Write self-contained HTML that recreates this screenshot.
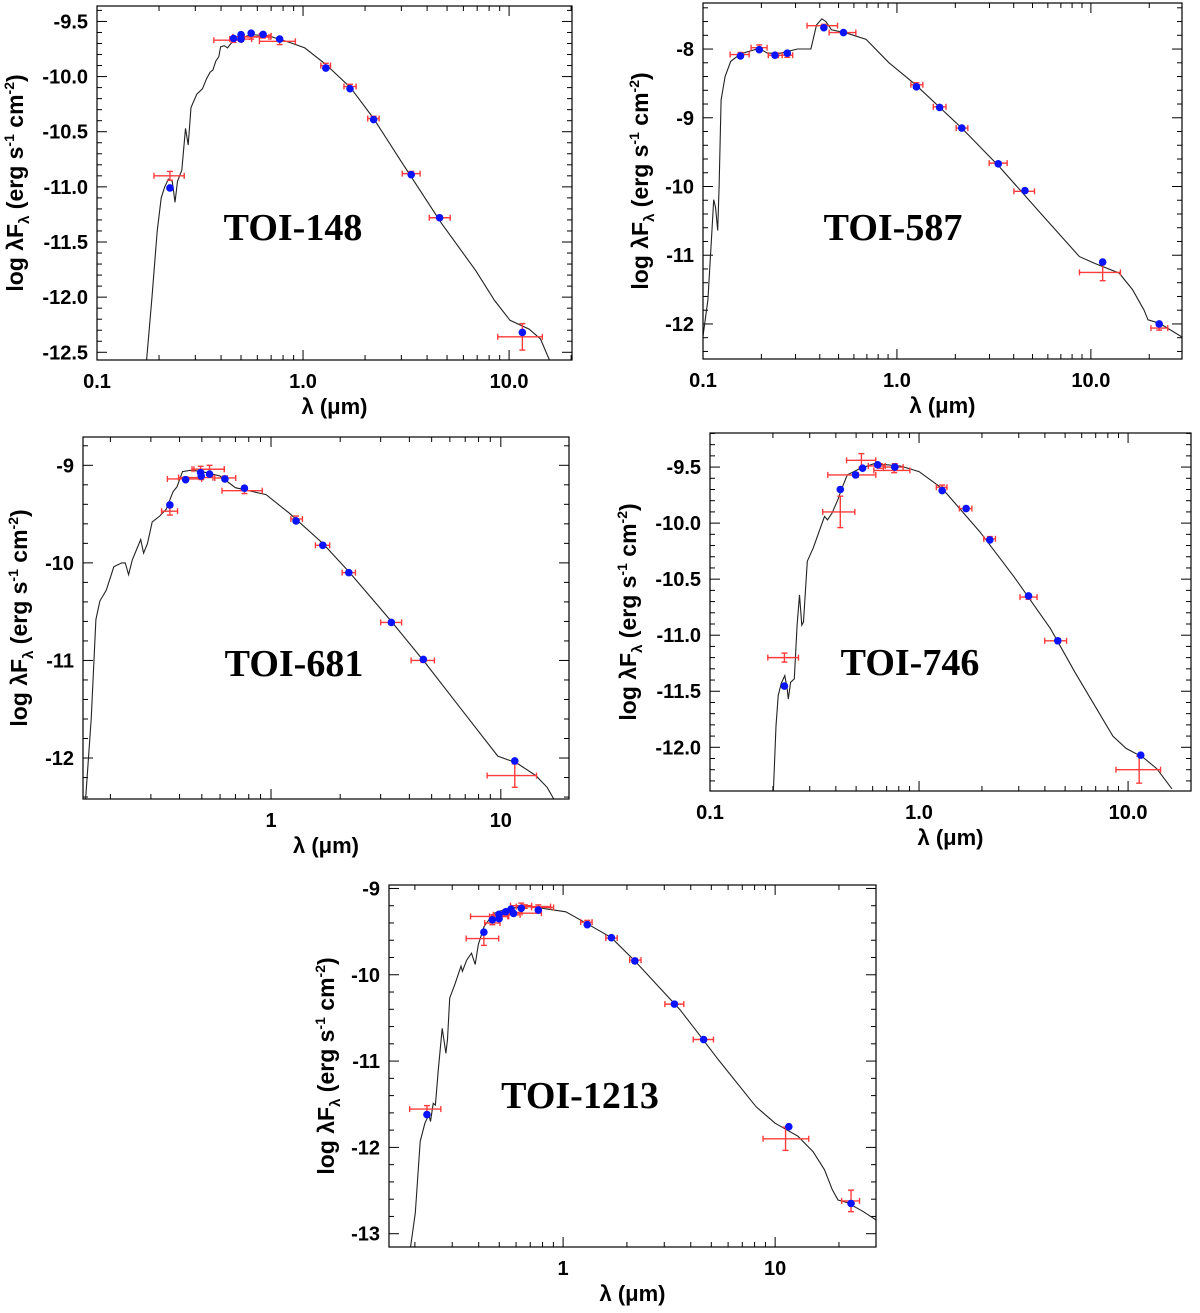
<!DOCTYPE html>
<html><head><meta charset="utf-8"><style>
html,body{margin:0;padding:0;background:#fff;}
svg{display:block;font-family:"Liberation Sans",sans-serif;}
</style></head><body>
<svg id="fig" width="1200" height="1313" viewBox="0 0 1200 1313" xmlns="http://www.w3.org/2000/svg"></svg>
<script>
// ---------- TOI-148 ----------
const p1DotWl   = [0.226,0.46,0.50,0.50,0.56,0.64,0.77,1.29,1.69,2.2,3.35,4.6,11.6];
const p1DotFlux = [-11.01,-9.654,-9.62,-9.66,-9.606,-9.618,-9.66,-9.923,-10.11,-10.39,-10.89,-11.28,-12.32];
const p1ErrWl   = [0.226,0.46,0.50,0.50,0.56,0.64,0.77,1.29,1.69,2.2,3.35,4.6,11.6];
const p1ErrFlux = [-10.90,-9.67,-9.66,-9.64,-9.64,-9.63,-9.68,-9.90,-10.09,-10.38,-10.88,-11.28,-12.36];
const p1ErrLo   = [0.189,0.369,0.441,0.456,0.519,0.614,0.614,1.22,1.58,2.06,3.03,4.10,8.81];
const p1ErrHi   = [0.265,0.504,0.563,0.683,0.697,0.70,0.918,1.36,1.81,2.34,3.70,5.18,14.5];
const p1ErrY    = [0.04,0.02,0.02,0.02,0.02,0.02,0.03,0.02,0.02,0.02,0.02,0.02,0.12];
const p1ModWl   = [0.174,0.185,0.196,0.205,0.213,0.222,0.232,0.239,0.246,0.258,0.269,0.277,0.286,0.305,0.325,0.340,0.354,0.365,0.377,0.390,0.398,0.415,0.43,0.46,0.56,0.68,0.86,1.02,1.29,1.70,2.2,2.95,4.7,6.89,8.5,10.1,12.5,14.2,15.7];
const p1ModFlux = [-12.57,-12.0,-11.4,-11.1,-11.0,-10.93,-10.95,-11.14,-10.95,-10.85,-10.47,-10.62,-10.28,-10.16,-10.11,-10.02,-9.96,-9.94,-9.86,-9.82,-9.73,-9.72,-9.74,-9.67,-9.62,-9.63,-9.69,-9.74,-9.89,-10.10,-10.38,-10.75,-11.33,-11.76,-12.03,-12.21,-12.29,-12.38,-12.57];
// ---------- TOI-587 ----------
const p2DotWl   = [0.156,0.195,0.235,0.272,0.42,0.53,1.26,1.66,2.16,3.33,4.57,11.5,22.5];
const p2DotFlux = [-8.10,-8.01,-8.09,-8.06,-7.69,-7.76,-8.55,-8.85,-9.15,-9.67,-10.06,-11.10,-12.0];
const p2ErrWl   = [0.156,0.195,0.235,0.272,0.42,0.53,1.26,1.66,2.16,3.33,4.57,11.5,22.5];
const p2ErrFlux = [-8.08,-7.98,-8.09,-8.09,-7.66,-7.76,-8.52,-8.84,-9.15,-9.66,-10.07,-11.25,-12.06];
const p2ErrLo   = [0.138,0.177,0.217,0.245,0.344,0.447,1.18,1.54,2.02,2.99,4.01,8.73,20.4];
const p2ErrHi   = [0.173,0.214,0.256,0.29,0.494,0.614,1.36,1.79,2.32,3.70,5.12,14.2,24.9];
const p2ErrY    = [0.03,0.04,0.03,0.03,0.02,0.02,0.03,0.02,0.02,0.02,0.02,0.12,0.03];
const p2ModWl   = [0.1,0.106,0.111,0.1135,0.116,0.119,0.121,0.124,0.130,0.139,0.156,0.195,0.215,0.25,0.307,0.36,0.385,0.41,0.43,0.46,0.553,0.693,0.91,1.25,2.16,3.37,5.31,8.73,10.5,14.0,16.4,18.8,19.7,22.6,29.5];
const p2ModFlux = [-12.18,-11.65,-10.68,-10.19,-10.3,-10.64,-10.0,-8.74,-8.40,-8.18,-8.07,-7.99,-8.06,-8.06,-8.00,-8.0,-7.65,-7.56,-7.60,-7.72,-7.77,-7.86,-8.20,-8.52,-9.15,-9.71,-10.34,-11.02,-11.12,-11.26,-11.50,-11.80,-11.94,-11.99,-12.19];
// ---------- TOI-681 ----------
const p3DotWl   = [0.363,0.425,0.494,0.497,0.54,0.63,0.766,1.285,1.68,2.18,3.34,4.6,11.5];
const p3DotFlux = [-9.406,-9.147,-9.075,-9.11,-9.09,-9.14,-9.235,-9.57,-9.82,-10.10,-10.61,-10.99,-12.03];
const p3ErrWl   = [0.363,0.425,0.494,0.497,0.54,0.63,0.766,1.285,1.68,2.18,3.34,4.6,11.5];
const p3ErrFlux = [-9.47,-9.14,-9.04,-9.126,-9.04,-9.13,-9.26,-9.55,-9.82,-10.10,-10.61,-11.0,-12.18];
const p3ErrLo   = [0.334,0.354,0.453,0.396,0.462,0.569,0.612,1.22,1.56,2.04,3.0,4.07,8.72];
const p3ErrHi   = [0.392,0.499,0.626,0.559,0.626,0.702,0.916,1.37,1.80,2.33,3.7,5.14,14.3];
const p3ErrY    = [0.04,0.02,0.03,0.02,0.04,0.02,0.03,0.03,0.02,0.02,0.02,0.02,0.12];
const p3ModWl   = [0.156,0.165,0.173,0.18,0.192,0.207,0.224,0.232,0.24,0.249,0.271,0.279,0.29,0.304,0.328,0.35,0.375,0.39,0.412,0.45,0.50,0.60,0.70,0.952,1.2,1.68,2.2,3.34,4.71,6.38,9.7,11.7,14.2,15.9,17.0];
const p3ModFlux = [-12.42,-11.6,-10.58,-10.39,-10.28,-10.04,-10.0,-10.0,-10.12,-9.97,-9.76,-9.9,-9.8,-9.58,-9.52,-9.45,-9.27,-9.22,-9.065,-9.05,-9.065,-9.11,-9.23,-9.30,-9.49,-9.80,-10.1,-10.6,-11.03,-11.43,-11.98,-12.05,-12.18,-12.30,-12.42];
// ---------- TOI-746 ----------
const p4DotWl   = [0.227,0.42,0.497,0.537,0.634,0.766,1.29,1.68,2.18,3.34,4.61,11.5];
const p4DotFlux = [-11.454,-9.70,-9.57,-9.51,-9.48,-9.50,-9.71,-9.87,-10.15,-10.65,-11.05,-12.07];
const p4ErrWl   = [0.227,0.42,0.53,0.50,0.65,0.766,0.76,1.29,1.68,2.18,3.34,4.61,11.3];
const p4ErrFlux = [-11.20,-9.90,-9.44,-9.57,-9.49,-9.50,-9.53,-9.68,-9.87,-10.14,-10.66,-11.05,-12.20];
const p4ErrLo   = [0.189,0.346,0.45,0.366,0.572,0.675,0.608,1.21,1.56,2.04,3.04,3.99,8.75];
const p4ErrHi   = [0.265,0.493,0.621,0.621,0.689,0.839,0.904,1.36,1.79,2.32,3.67,5.08,14.3];
const p4ErrY    = [0.04,0.14,0.06,0.02,0.02,0.03,0.02,0.02,0.02,0.02,0.02,0.02,0.12];
const p4ModWl   = [0.201,0.207,0.212,0.219,0.228,0.234,0.237,0.243,0.253,0.261,0.268,0.275,0.28,0.292,0.312,0.332,0.353,0.365,0.384,0.409,0.427,0.454,0.514,0.608,0.815,1.0,1.29,1.96,2.85,4.25,5.57,8.46,9.79,11.8,13.7,16.2];
const p4ModFlux = [-12.39,-11.81,-11.54,-11.43,-11.36,-11.48,-11.57,-11.42,-11.39,-10.91,-10.64,-10.91,-10.88,-10.34,-10.22,-10.08,-9.94,-9.97,-9.91,-9.79,-9.69,-9.57,-9.52,-9.47,-9.49,-9.54,-9.69,-10.08,-10.48,-10.94,-11.33,-11.90,-12.01,-12.09,-12.19,-12.37];
// ---------- TOI-1213 ----------
const p5DotWl   = [0.228,0.423,0.464,0.499,0.499,0.536,0.568,0.584,0.635,0.764,1.30,1.69,2.18,3.35,4.6,11.6,22.8];
const p5DotFlux = [-11.62,-9.506,-9.363,-9.30,-9.35,-9.27,-9.24,-9.29,-9.23,-9.25,-9.42,-9.57,-9.84,-10.34,-10.75,-11.76,-12.65];
const p5ErrWl   = [0.228,0.423,0.464,0.47,0.50,0.53,0.568,0.635,0.66,0.764,0.58,1.30,1.69,2.18,3.35,4.6,11.2,22.8];
const p5ErrFlux = [-11.556,-9.58,-9.40,-9.324,-9.324,-9.305,-9.278,-9.20,-9.21,-9.22,-9.286,-9.39,-9.575,-9.83,-10.34,-10.75,-11.90,-12.62];
const p5ErrLo   = [0.189,0.349,0.427,0.366,0.45,0.469,0.52,0.565,0.601,0.71,0.52,1.21,1.59,2.06,3.02,4.11,8.77,20.6];
const p5ErrHi   = [0.265,0.497,0.504,0.549,0.554,0.627,0.64,0.71,0.873,0.902,0.79,1.37,1.80,2.33,3.71,5.12,14.4,25.0];
const p5ErrY    = [0.04,0.08,0.02,0.02,0.02,0.02,0.02,0.03,0.02,0.03,0.02,0.02,0.02,0.02,0.02,0.02,0.135,0.125];
const p5ModWl   = [0.191,0.201,0.212,0.223,0.233,0.237,0.244,0.25,0.258,0.269,0.28,0.285,0.292,0.31,0.33,0.335,0.351,0.37,0.385,0.398,0.424,0.47,0.55,0.68,0.80,1.03,1.30,1.69,2.18,3.56,4.28,5.38,8.13,10.0,12.8,15.1,17.1,18.6,19.8,21.9,25.9,29.9];
const p5ModFlux = [-13.15,-12.76,-11.93,-11.72,-11.62,-11.70,-11.49,-11.51,-11.10,-10.62,-10.91,-10.75,-10.27,-10.10,-9.90,-9.96,-9.83,-9.75,-9.88,-9.65,-9.44,-9.29,-9.23,-9.21,-9.23,-9.27,-9.41,-9.57,-9.84,-10.405,-10.66,-10.98,-11.53,-11.72,-11.87,-12.05,-12.26,-12.49,-12.61,-12.64,-12.74,-12.84];

// tick label arrays
const p1XTicks = [0.1,1,10], p1XLabels = ["0.1","1.0","10.0"];
const p1YTicks = [-9.5,-10,-10.5,-11,-11.5,-12,-12.5], p1YLabels = ["-9.5","-10.0","-10.5","-11.0","-11.5","-12.0","-12.5"];
const p2XTicks = [0.1,1,10], p2XLabels = ["0.1","1.0","10.0"];
const p2YTicks = [-8,-9,-10,-11,-12], p2YLabels = ["-8","-9","-10","-11","-12"];
const p3XTicks = [1,10], p3XLabels = ["1","10"];
const p3YTicks = [-9,-10,-11,-12], p3YLabels = ["-9","-10","-11","-12"];
const p4XTicks = [0.1,1,10], p4XLabels = ["0.1","1.0","10.0"];
const p4YTicks = [-9.5,-10,-10.5,-11,-11.5,-12], p4YLabels = ["-9.5","-10.0","-10.5","-11.0","-11.5","-12.0"];
const p5XTicks = [1,10], p5XLabels = ["1","10"];
const p5YTicks = [-9,-10,-11,-12,-13], p5YLabels = ["-9","-10","-11","-12","-13"];

const NS="http://www.w3.org/2000/svg";
const svg=document.getElementById('fig');
function mk(tag,attrs,parent){const e=document.createElementNS(NS,tag);for(const k in attrs)e.setAttribute(k,attrs[k]);(parent||svg).appendChild(e);return e;}

const panels=[
 {id:'toi-148',name:'TOI-148',L:97,R:572,T:6,B:360,x0:0.1,x1:20.2,y0:-12.57,y1:-9.36,minorY:0.1,xt:p1XTicks,xl:p1XLabels,yt:p1YTicks,yl:p1YLabels,
  dw:p1DotWl,df:p1DotFlux,ew:p1ErrWl,ef:p1ErrFlux,elo:p1ErrLo,ehi:p1ErrHi,ey:p1ErrY,mw:p1ModWl,mf:p1ModFlux,tx:293,ty:240,ytx:15},
 {id:'toi-587',name:'TOI-587',L:703,R:1182,T:3,B:359,x0:0.1,x1:29.5,y0:-12.51,y1:-7.33,minorY:0.2,xt:p2XTicks,xl:p2XLabels,yt:p2YTicks,yl:p2YLabels,
  dw:p2DotWl,df:p2DotFlux,ew:p2ErrWl,ef:p2ErrFlux,elo:p2ErrLo,ehi:p2ErrHi,ey:p2ErrY,mw:p2ModWl,mf:p2ModFlux,tx:893,ty:240,ytx:640},
 {id:'toi-681',name:'TOI-681',L:83,R:569,T:437,B:799,x0:0.152,x1:19.8,y0:-12.42,y1:-8.71,minorY:0.2,xt:p3XTicks,xl:p3XLabels,yt:p3YTicks,yl:p3YLabels,
  dw:p3DotWl,df:p3DotFlux,ew:p3ErrWl,ef:p3ErrFlux,elo:p3ErrLo,ehi:p3ErrHi,ey:p3ErrY,mw:p3ModWl,mf:p3ModFlux,tx:294,ty:676,ytx:19},
 {id:'toi-746',name:'TOI-746',L:710,R:1191,T:433,B:791,x0:0.1,x1:20,y0:-12.39,y1:-9.196,minorY:0.1,xt:p4XTicks,xl:p4XLabels,yt:p4YTicks,yl:p4YLabels,
  dw:p4DotWl,df:p4DotFlux,ew:p4ErrWl,ef:p4ErrFlux,elo:p4ErrLo,ehi:p4ErrHi,ey:p4ErrY,mw:p4ModWl,mf:p4ModFlux,tx:910,ty:675,ytx:628},
 {id:'toi-1213',name:'TOI-1213',L:389,R:876,T:885,B:1247,x0:0.151,x1:29.9,y0:-13.154,y1:-8.96,minorY:0.2,xt:p5XTicks,xl:p5XLabels,yt:p5YTicks,yl:p5YLabels,
  dw:p5DotWl,df:p5DotFlux,ew:p5ErrWl,ef:p5ErrFlux,elo:p5ErrLo,ehi:p5ErrHi,ey:p5ErrY,mw:p5ModWl,mf:p5ModFlux,tx:580,ty:1108,ytx:326}
];

panels.forEach(p=>{
  const g=mk('g',{});
  
  
  const lx0=Math.log10(p.x0), lx1=Math.log10(p.x1);
  const X=v=>p.L+(Math.log10(v)-lx0)/(lx1-lx0)*(p.R-p.L);
  const Y=v=>p.B-(v-p.y0)/(p.y1-p.y0)*(p.B-p.T);
  const cid='clip-'+p.id;
  const cp=mk('clipPath',{id:cid},g); mk('rect',{x:p.L,y:p.T,width:p.R-p.L,height:p.B-p.T},cp);
  const tg=mk('g',{stroke:'#000','stroke-width':1},g);
  
  
  for(let d=-2;d<=2;d++){for(let m=1;m<=9;m++){const v=m*Math.pow(10,d);if(v<p.x0*0.999||v>p.x1)continue;
    const x=X(v),len=(m===1)?10:5;
    mk('line',{x1:x,y1:p.B,x2:x,y2:p.B-len},tg);mk('line',{x1:x,y1:p.T,x2:x,y2:p.T+len},tg);}}
  const n0=Math.ceil(p.y0/p.minorY-1e-6), n1=Math.floor(p.y1/p.minorY+1e-6);
  const majStep=p.yt[0]-p.yt[1];
  for(let n=n0;n<=n1;n++){const v=n*p.minorY;const isMaj=Math.abs(v/majStep-Math.round(v/majStep))<1e-6;
    const y=Y(v),len=isMaj?10:5;
    mk('line',{x1:p.L,y1:y,x2:p.L+len,y2:y},tg);mk('line',{x1:p.R,y1:y,x2:p.R-len,y2:y},tg);}
  let d='';p.mw.forEach((w,i)=>{d+=(i?'L':'M')+X(w).toFixed(1)+','+Y(p.mf[i]).toFixed(1);});
  const path=mk('path',{d:d,fill:'none',stroke:'#222','stroke-width':1.1,'clip-path':'url(#'+cid+')'},g);
  
  
  p.ew.forEach((w,i)=>{
    const eg=mk('g',{stroke:'#ff3b3b','stroke-width':1.4},g);
    
    
    const y=Y(p.ef[i]),x=X(w),xa=X(p.elo[i]),xb=X(p.ehi[i]),ya=Y(p.ef[i]+p.ey[i]),yb=Y(p.ef[i]-p.ey[i]);
    mk('line',{x1:xa,y1:y,x2:xb,y2:y},eg);
    mk('line',{x1:xa,y1:y-3,x2:xa,y2:y+3},eg);mk('line',{x1:xb,y1:y-3,x2:xb,y2:y+3},eg);
    mk('line',{x1:x,y1:ya,x2:x,y2:yb},eg);
    mk('line',{x1:x-3,y1:ya,x2:x+3,y2:ya},eg);mk('line',{x1:x-3,y1:yb,x2:x+3,y2:yb},eg);
  });
  p.dw.forEach((w,i)=>{
    const c=mk('circle',{cx:X(w),cy:Y(p.df[i]),r:3.8,fill:'#0a14ff'},g);
    
    
  });
  const fr=mk('rect',{x:p.L,y:p.T,width:p.R-p.L,height:p.B-p.T,fill:'none',stroke:'#000','stroke-width':1.2},g);
  
  
  p.xt.forEach((v,i)=>{const t=mk('text',{x:X(v),y:p.B+28,'text-anchor':'middle','font-size':20,'font-weight':'bold'},g);t.textContent=p.xl[i];
    
    });
  p.yt.forEach((v,i)=>{const t=mk('text',{x:p.L-9,y:Y(v)+7,'text-anchor':'end','font-size':20,'font-weight':'bold'},g);t.textContent=p.yl[i];
    
    });
  const xt=mk('text',{x:(p.L+p.R)/2,y:p.B+54,'text-anchor':'middle','font-size':22,'font-weight':'bold'},g);
  xt.textContent='λ (μm)';
  
  
  const cy=(p.T+p.B)/2;
  const yt=mk('text',{x:0,y:0,'text-anchor':'middle','font-size':23,'font-weight':'bold',transform:'translate('+(p.ytx+8)+','+cy+') rotate(-90)'},g);
  
  
  const parts=[['log λF',0],['λ',1],[' (erg s',0],['-1',2],[' cm',0],['-2',2],[')',0]];
  parts.forEach(([s,k])=>{const ts=mk('tspan',{},yt);ts.textContent=s;
    if(k===1){ts.setAttribute('font-size','15');ts.setAttribute('dy','6');}
    if(k===2){ts.setAttribute('font-size','14');ts.setAttribute('dy','-9');}
    if(k===0&&s!=='log λF'){ts.setAttribute('dy', s===' (erg s'?'-6':'9');}
  });
  const tt=mk('text',{x:p.tx,y:p.ty,'text-anchor':'middle','font-size':38,'font-weight':'bold','font-family':'"Liberation Serif",serif'},g);
  tt.textContent=p.name;
  
  
});
</script>
</body></html>
